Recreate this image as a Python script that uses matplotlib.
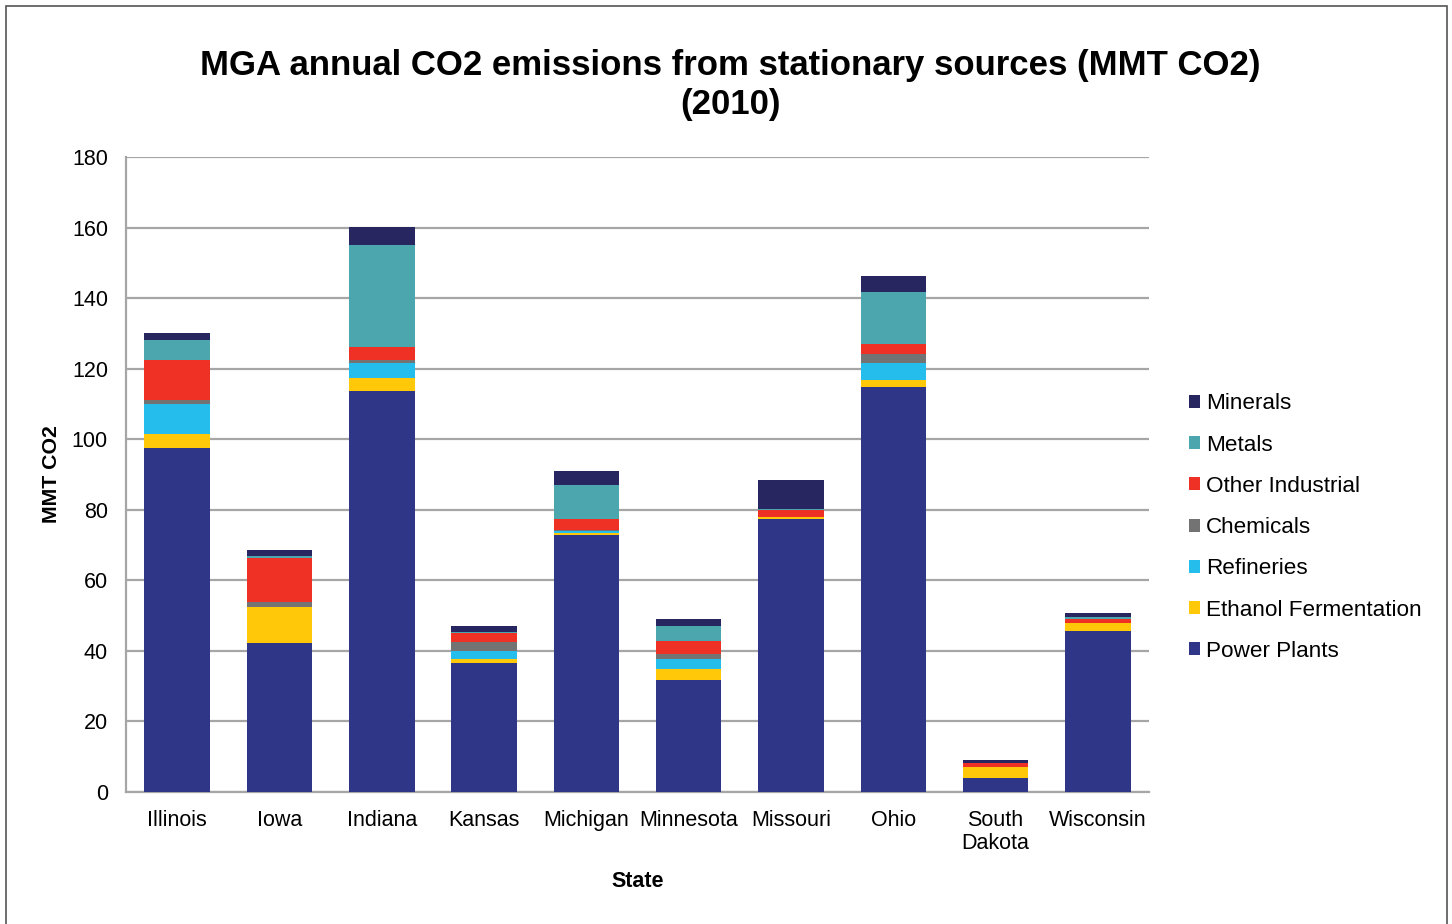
import numpy as np
import matplotlib.pyplot as plt
from matplotlib.patches import Patch, Rectangle

plt.rcParams["font.family"] = ["Liberation Sans", "DejaVu Sans"]

states = ["Illinois", "Iowa", "Indiana", "Kansas", "Michigan", "Minnesota",
          "Missouri", "Ohio", "South\nDakota", "Wisconsin"]

# MMT CO2 per source, bottom to top of each stack
power_plants = [97.6, 42.1, 113.7, 36.6, 72.9, 31.7, 77.4, 114.9, 3.9, 45.7]
ethanol = [3.8, 10.4, 3.7, 1.2, 0.6, 3.1, 0.5, 1.9, 3.1, 2.1]
refineries = [8.6, 0.0, 4.3, 2.3, 0.5, 2.9, 0.0, 4.8, 0.0, 0.0]
chemicals = [1.2, 1.4, 0.7, 2.4, 0.3, 1.4, 0.1, 2.5, 0.0, 0.0]
other_industrial = [11.3, 12.3, 3.7, 2.5, 3.0, 3.7, 1.8, 2.9, 1.2, 1.2]
metals = [5.5, 0.8, 29.0, 0.3, 9.8, 4.2, 0.5, 14.8, 0.0, 0.7]
minerals = [2.0, 1.6, 5.0, 1.8, 3.8, 1.9, 8.1, 4.4, 0.8, 1.1]

series = [
    ("Power Plants", power_plants, "#303687"),
    ("Ethanol Fermentation", ethanol, "#ffc90a"),
    ("Refineries", refineries, "#25bdec"),
    ("Chemicals", chemicals, "#737373"),
    ("Other Industrial", other_industrial, "#ee3124"),
    ("Metals", metals, "#4ba6ae"),
    ("Minerals", minerals, "#272660"),
]

fig = plt.figure(figsize=(14.52, 9.24), dpi=100)
ax = fig.add_axes([0.0868, 0.1429, 0.7045, 0.6871])

x = np.arange(len(states))
bottom = np.zeros(len(states))
for name, vals, color in series:
    vals = np.array(vals)
    ax.bar(x, vals, 0.64, bottom=bottom, color=color, zorder=3)
    bottom += vals

ax.set_ylim(0, 180)
ax.set_xlim(-0.5, len(states) - 0.5)
ax.set_yticks(range(0, 181, 20))
ax.set_xticks(x)
ax.set_xticklabels(states, fontsize=15.5, linespacing=1.15)
ax.tick_params(axis="y", labelsize=15.5, length=0, pad=13)
ax.tick_params(axis="x", length=0, pad=13)
ax.yaxis.grid(True, color="#a6a6a6", linewidth=1.6, zorder=0)
for side in ["top", "right"]:
    ax.spines[side].set_visible(False)
for side in ["left", "bottom"]:
    ax.spines[side].set_color("#a6a6a6")
    ax.spines[side].set_linewidth(1.6)

ax.set_xlabel("State", fontsize=15.5, fontweight="bold", labelpad=12)
ax.set_ylabel("MMT CO2", fontsize=15.3, fontweight="bold", labelpad=8)

fig.text(0.503, 0.908, "MGA annual CO2 emissions from stationary sources (MMT CO2)\n(2010)",
         ha="center", va="center", fontsize=25, fontweight="bold", linespacing=1.2)

handles = [Patch(facecolor=c, label=n) for n, _, c in series[::-1]]
ax.legend(handles=handles, loc="center left", bbox_to_anchor=(0.8125, 0.429),
          bbox_transform=fig.transFigure, frameon=False, fontsize=16.2,
          handlelength=0.5, handleheight=0.5, handletextpad=0.25,
          labelspacing=0.9, borderaxespad=0)

fig.patches.append(Rectangle((6 / 1452, -0.05), 1441 / 1452, 1.05 - 6 / 924,
                             transform=fig.transFigure, fill=False,
                             edgecolor="#555555", linewidth=1.2))

fig.savefig("out.png", dpi=100)
